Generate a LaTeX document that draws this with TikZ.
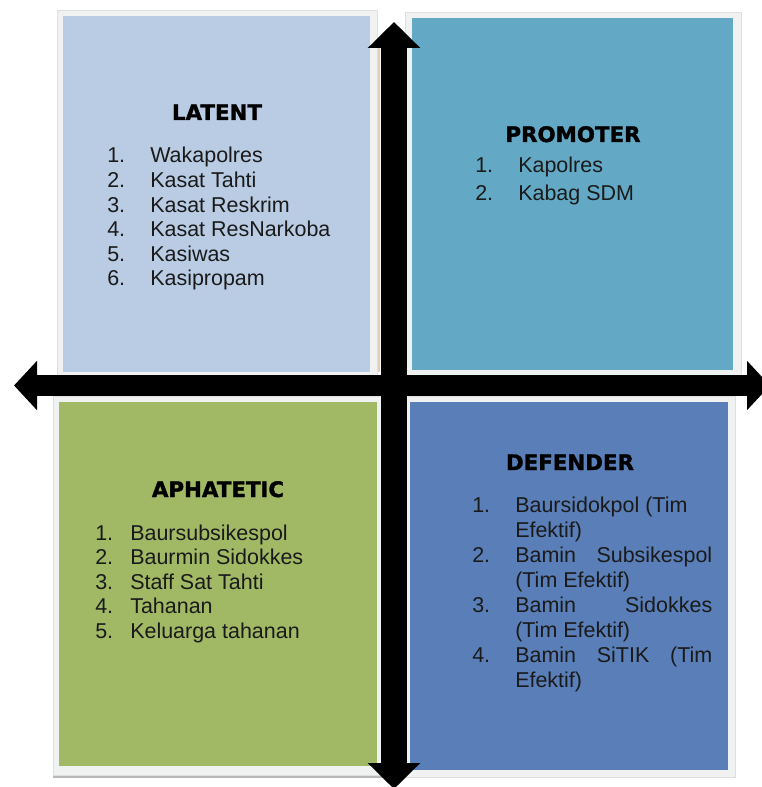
\documentclass[tikz,border=0pt]{standalone}
\usepackage{fontspec}
\setmainfont{Liberation Sans}
\newfontfamily\titlefont{DejaVu Sans}[BoldFeatures={FakeBold=1.6}]
\usetikzlibrary{arrows.meta}
\definecolor{latentc}{HTML}{B9CCE4}
\definecolor{promoc}{HTML}{63A9C5}
\definecolor{aphac}{HTML}{A1B865}
\definecolor{defc}{HTML}{5A7EB8}
\definecolor{framec}{HTML}{F0F1F1}
\definecolor{txtc}{HTML}{1A1A1A}
\tikzset{
  framebox/.style={fill=framec, draw=gray!25, line width=0.4pt},
  title/.style={inner sep=0pt, anchor=base, text=black, font=\titlefont\bfseries\fontsize{16}{18}\selectfont},
  item/.style={inner sep=0pt, anchor=base west, text=txtc, font=\fontsize{16.1}{18.5}\selectfont},
  varrow/.style={line width=19.5pt, {Triangle[length=19.5pt,width=38.25pt]}-{Triangle[length=19.5pt,width=38.25pt]}},
  harrow/.style={line width=15.75pt, {Triangle[length=17.25pt,width=36pt]}-{Triangle[length=17.25pt,width=36pt]}}
}
\begin{document}
\begin{tikzpicture}[x=0.75pt,y=-0.75pt]
\clip (0,0) rectangle (762,787);
\useasboundingbox (0,0) rectangle (762,787);
\fill[white] (0,0) rectangle (762,787);
% frames
\draw[framebox] (57,10) rectangle (377,378);
\draw[framebox] (405,12) rectangle (741,376);
\draw[framebox] (53,396) rectangle (384,775);
\draw[framebox] (403,396) rectangle (735,777);
\draw[gray!55, line width=1.5pt] (53,777) -- (384,777);
\draw[brown!40, line width=1pt] (379,40) -- (379,372);
% quadrants
\fill[latentc] (63,16) rectangle (370,372) node[midway] (latent) {};
\fill[promoc] (412,18) rectangle (733,370) node[midway] (promoter) {};
\fill[aphac] (59,402) rectangle (377,766) node[midway] (aphatetic) {};
\fill[defc] (410,402) rectangle (728,770) node[midway] (defender) {};
% arrows
\coordinate (vt) at (394,22);
\coordinate (vb) at (394,789);
\coordinate (hl) at (14,385.5);
\coordinate (hr) at (770,385.5);
\draw[varrow] (vt) -- (vb);
\draw[harrow] (hl) -- (hr);
% LATENT
\node[title] (tlat) at (217,120) {LATENT};
\foreach \t [count=\k] in {Wakapolres,Kasat Tahti,Kasat Reskrim,Kasat ResNarkoba,Kasiwas,Kasipropam}{
  \node[item] (latn\k) at (107,{163+24.6*(\k-1)}) {\k.};
  \node[item] (latt\k) at (150,{163+24.6*(\k-1)}) {\t};
}
% PROMOTER
\node[title] (tpro) at (573,142) {PROMOTER};
\foreach \t [count=\k] in {Kapolres,Kabag SDM}{
  \node[item] (pron\k) at (475,{173+28*(\k-1)}) {\k.};
  \node[item] (prot\k) at (518,{173+28*(\k-1)}) {\t};
}
% APHATETIC
\node[title] (taph) at (218,497) {APHATETIC};
\foreach \t [count=\k] in {Baursubsikespol,Baurmin Sidokkes,Staff Sat Tahti,Tahanan,Keluarga tahanan}{
  \node[item] (aphn\k) at (95,{540+24.5*(\k-1)}) {\k.};
  \node[item] (apht\k) at (130,{540+24.5*(\k-1)}) {\t};
}
% DEFENDER
\node[title] (tdef) at (570,470) {DEFENDER};
\node[item] (defn1) at (472,512) {1.};
\node[item] (deft1a) at (515,512) {Baursidokpol (Tim};
\node[item] (deft1b) at (515,537) {Efektif)};
\node[item] (defn2) at (472,562) {2.};
\node[item] (deft2a) at (515,562) {\hbox to 147.75pt{Bamin\hfill Subsikespol}};
\node[item] (deft2b) at (515,587) {(Tim Efektif)};
\node[item] (defn3) at (472,612) {3.};
\node[item] (deft3a) at (515,612) {\hbox to 147.75pt{Bamin\hfill Sidokkes}};
\node[item] (deft3b) at (515,637) {(Tim Efektif)};
\node[item] (defn4) at (472,662) {4.};
\node[item] (deft4a) at (515,662) {\hbox to 147.75pt{Bamin\hfill SiTIK\hfill (Tim}};
\node[item] (deft4b) at (515,687) {Efektif)};
\end{tikzpicture}
\end{document}
